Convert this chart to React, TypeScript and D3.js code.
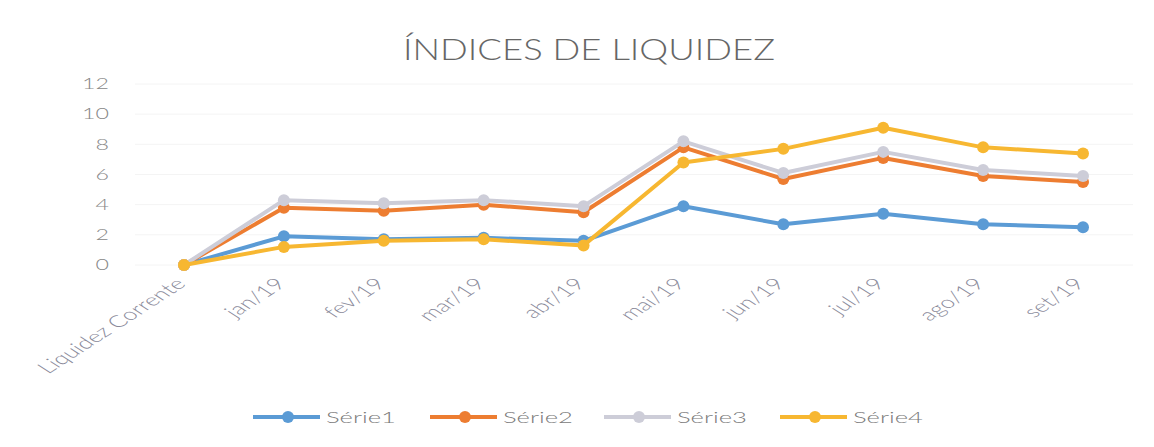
import React from "react";
import * as d3 from "d3";

const categories = ["Liquidez Corrente", "jan/19", "fev/19", "mar/19", "abr/19", "mai/19", "jun/19", "jul/19", "ago/19", "set/19"];
const serie1 = [0, 1.9, 1.7, 1.8, 1.6, 3.9, 2.7, 3.4, 2.7, 2.5];
const serie2 = [0, 3.8, 3.6, 4.0, 3.5, 7.8, 5.7, 7.1, 5.9, 5.5];
const serie3 = [0, 4.3, 4.1, 4.3, 3.9, 8.2, 6.1, 7.5, 6.3, 5.9];
const serie4 = [0, 1.2, 1.6, 1.7, 1.3, 6.8, 7.7, 9.1, 7.8, 7.4];
const seriesNames = ["Série1", "Série2", "Série3", "Série4"];
const yTicks = [0, 2, 4, 6, 8, 10, 12];
const title = "ÍNDICES DE LIQUIDEZ";

const colors = ["#5B9BD5", "#ED7D31", "#CDCDD8", "#F7B731"];
const W = 1154, H = 447;
const FONT = "Lato, 'Open Sans', sans-serif";
const SX = 1.55;

export default function App() {
  const allSeries = [serie1, serie2, serie3, serie4];
  const x = d3.scalePoint<string>().domain(categories).range([184, 1083]);
  const y = d3.scaleLinear().domain([0, 12]).range([265, 84]);
  const line = d3.line<number>().x((_, i) => x(categories[i])!).y((d) => y(d));
  const legendX = [253, 430, 604, 780];
  const legendY = 417;
  return (
    <div style={{ margin: -8 }}>
      <svg width={W} height={H} style={{ display: "block", background: "#fff" }} fontFamily={FONT}>
        <text x={403} y={60} fontSize={29} fontWeight={300} fill="#666" textLength={372} lengthAdjust="spacingAndGlyphs">{title}</text>
        {yTicks.map((t) => (
          <g key={t}>
            <line x1={135} x2={1133} y1={y(t)} y2={y(t)} stroke="#f4f4f4" strokeWidth={1} />
            <text transform={`translate(109,${y(t)}) scale(${SX},1)`} dy="0.35em" textAnchor="end" fontSize={15} fontWeight={300} fill="#888">{t}</text>
          </g>
        ))}
        {categories.map((c) => (
          <text key={c} transform={`translate(${x(c)! + 3},${285}) scale(${SX},1) rotate(-45)`} textAnchor="end" fontSize={16.5} fontWeight={300} fill="#8a8a9a">{c}</text>
        ))}
        {allSeries.map((s, si) => (
          <g key={si}>
            <path d={line(s)!} fill="none" stroke={colors[si]} strokeWidth={4} strokeLinejoin="round" />
            {s.map((v, i) => (
              <circle key={i} cx={x(categories[i])!} cy={y(v)} r={6} fill={colors[si]} />
            ))}
          </g>
        ))}
        {seriesNames.map((n, i) => (
          <g key={n}>
            <line x1={legendX[i]} x2={legendX[i] + 67} y1={legendY} y2={legendY} stroke={colors[i]} strokeWidth={4} />
            <circle cx={legendX[i] + 35} cy={legendY} r={6} fill={colors[i]} />
            <text x={legendX[i] + 73} y={legendY} dy="0.35em" fontSize={16} fontWeight={300} fill="#7a7a7a" textLength={70} lengthAdjust="spacingAndGlyphs">{n}</text>
          </g>
        ))}
      </svg>
    </div>
  );
}
